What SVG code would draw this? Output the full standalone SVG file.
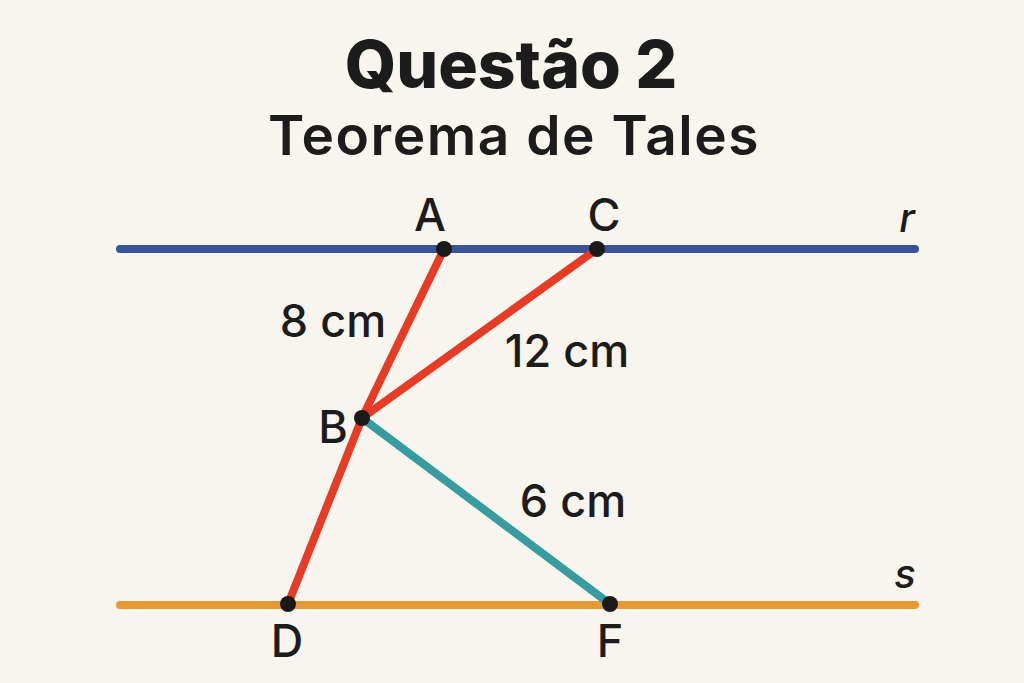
<svg xmlns="http://www.w3.org/2000/svg" width="1024" height="683" viewBox="0 0 1024 683">
<style>
.t{font-family:Inter,"Liberation Sans",sans-serif;fill:#1c1c1c;text-anchor:middle}
.lbl{font-size:45px;font-weight:500}
.it{font-style:italic;font-size:40px;font-weight:500}
.seg{stroke-width:8;stroke-linecap:round;fill:none}
.dot{fill:#1a1a1a}
</style>
<rect width="1024" height="683" fill="#f8f5ee"/>
<g id="title">
<text class="t" x="511" y="88" font-size="66" font-weight="800">Questão 2</text>
<text class="t" x="514" y="155" font-size="55" font-weight="600" letter-spacing="1.5">Teorema de Tales</text>
</g>
<g id="connectors">
<line class="seg" x1="120" y1="249" x2="915" y2="249" stroke="#3a5497" stroke-width="9"/>
<line class="seg" x1="120" y1="605" x2="915" y2="605" stroke="#e69a35" stroke-width="9"/>
<polyline class="seg" points="444,249 362,418 288,604" stroke="#e63b24"/>
<line class="seg" x1="597" y1="249" x2="362" y2="418" stroke="#e63b24"/>
<line class="seg" x1="362" y1="418" x2="610" y2="604" stroke="#369ca0"/>
</g>
<g id="line-r"><text class="t it" x="907" y="232">r</text></g>
<g id="line-s"><text class="t it" x="905" y="588">s</text></g>
<g id="A"><circle class="dot" cx="444" cy="249" r="8"/><text class="t lbl" x="430" y="231">A</text></g>
<g id="C"><circle class="dot" cx="597" cy="249" r="8"/><text class="t lbl" x="604" y="231">C</text></g>
<g id="B"><circle class="dot" cx="362" cy="418" r="8"/><text class="t lbl" x="333" y="443">B</text></g>
<g id="D"><circle class="dot" cx="288" cy="604" r="8"/><text class="t lbl" x="287" y="657">D</text></g>
<g id="F"><circle class="dot" cx="610" cy="604" r="8"/><text class="t lbl" x="610" y="657">F</text></g>
<g id="labels">
<text class="t lbl" x="333" y="337">8 cm</text>
<text class="t lbl" x="567" y="367">12 cm</text>
<text class="t lbl" x="573" y="517">6 cm</text>
</g>
</svg>
